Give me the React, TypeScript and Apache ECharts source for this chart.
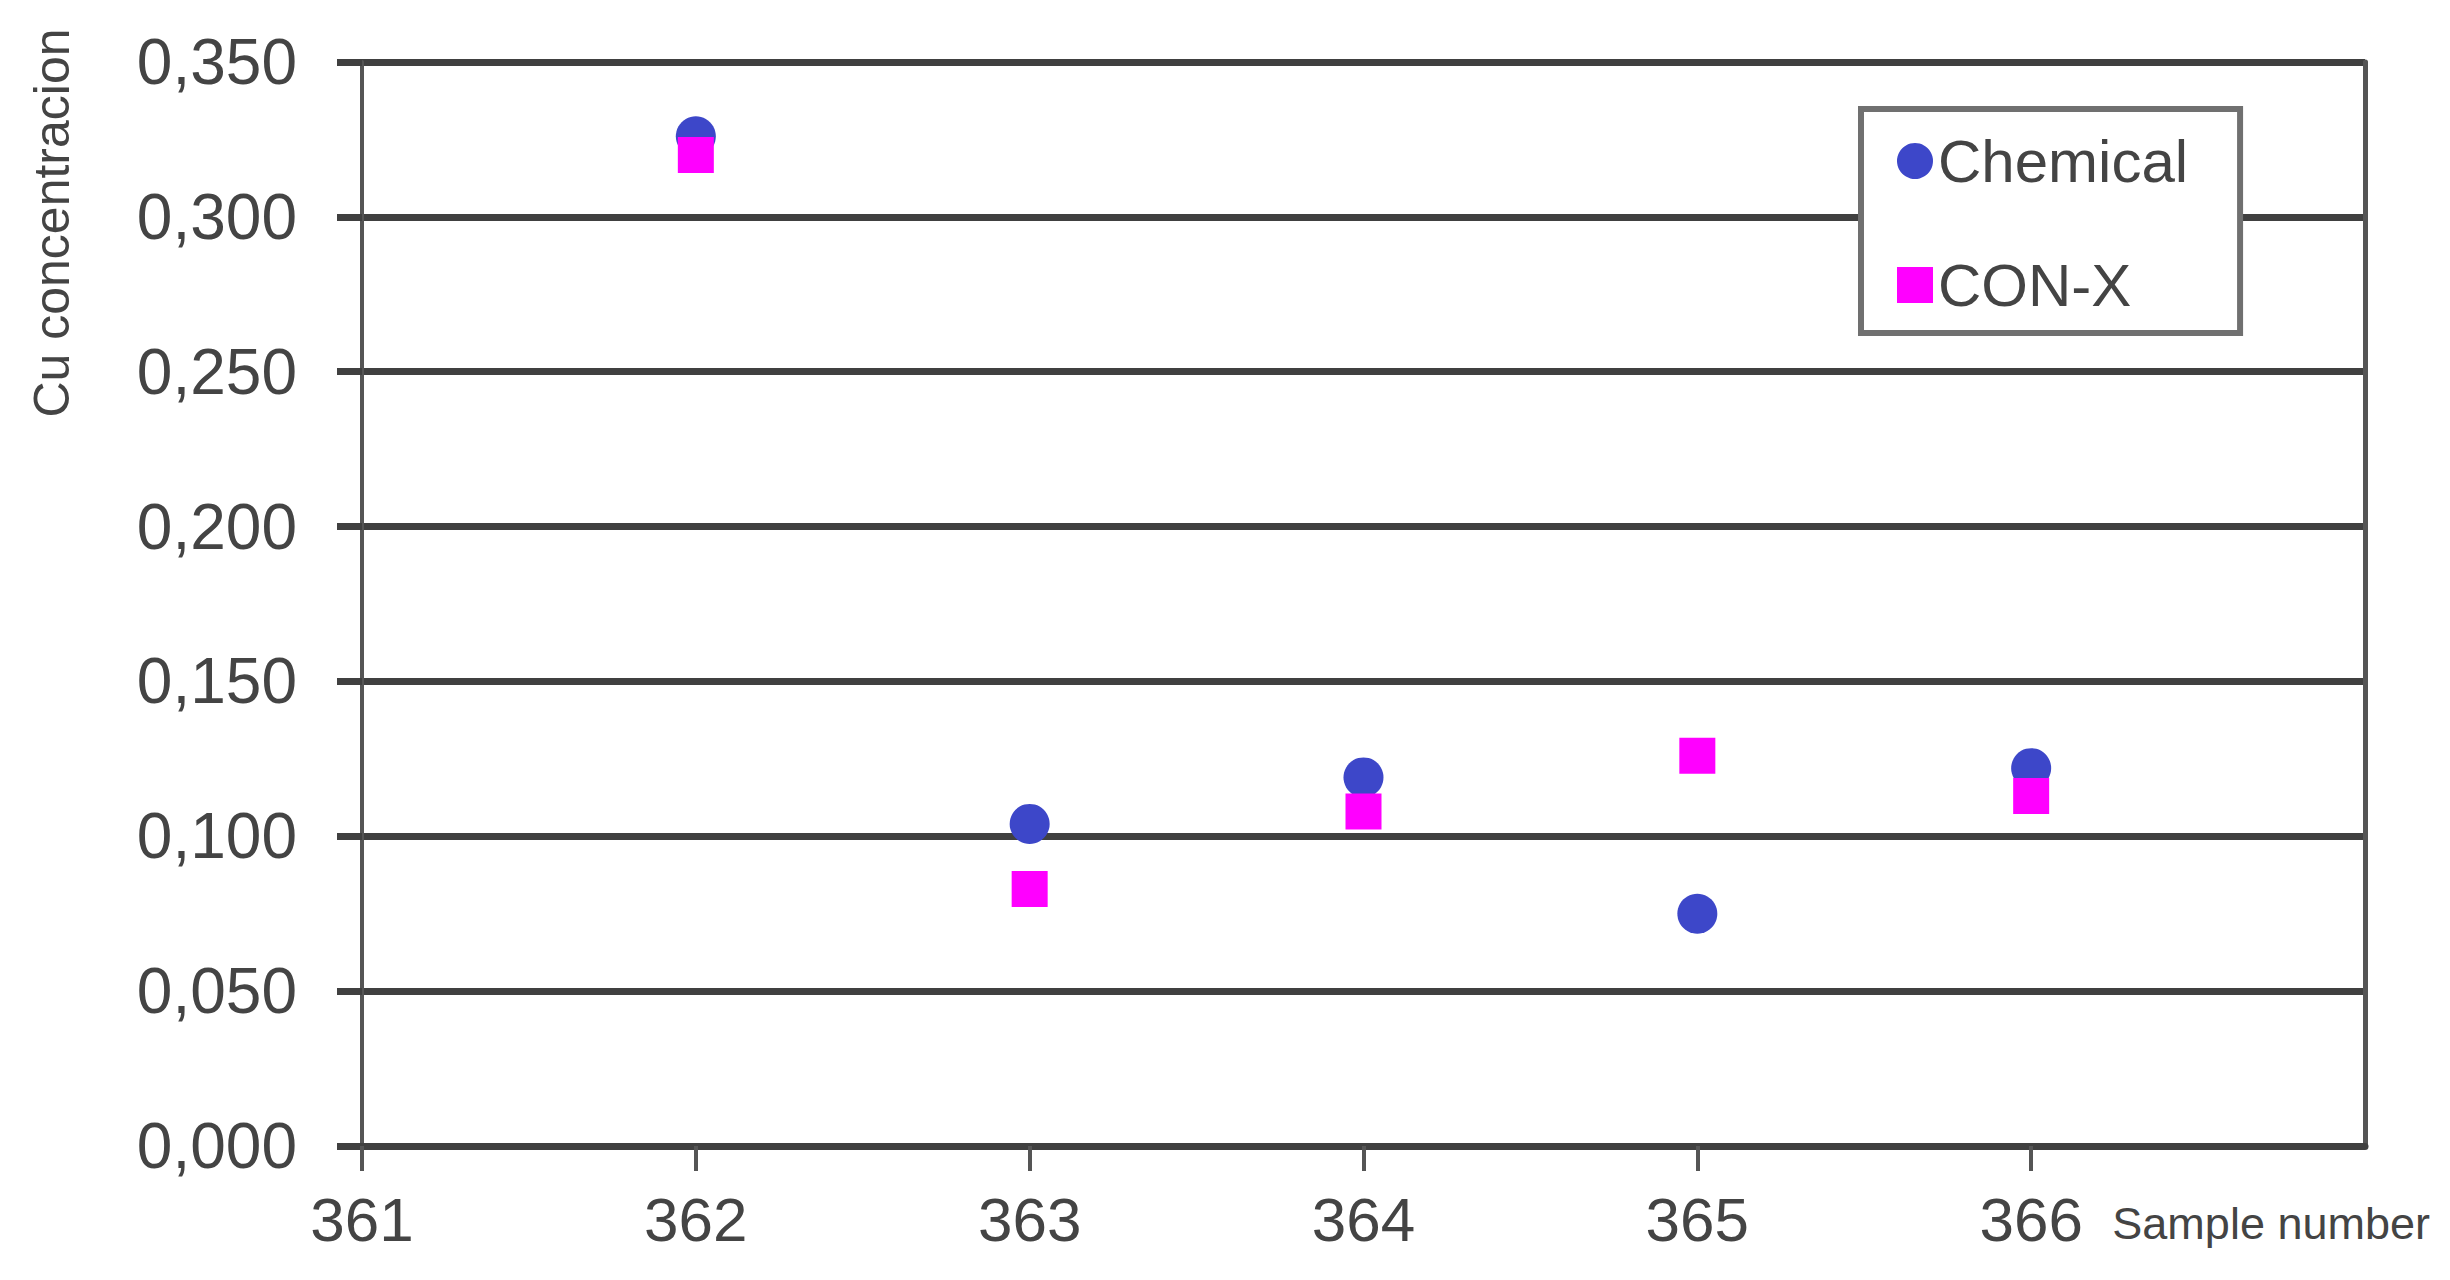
import { useEffect, useRef } from "react";
import * as echarts from "echarts";

// sample numbers on the x axis
const samples = [362, 363, 364, 365, 366];
// Cu concentration
const chemical = [0.326, 0.104, 0.119, 0.075, 0.122];
const conX = [0.32, 0.083, 0.108, 0.126, 0.113];

const FONT = '"Liberation Sans", Arial, sans-serif';
const GRID_LINE = { color: "#404040", width: 7 };

export default function App() {
  const chartRef = useRef<HTMLDivElement>(null);

  useEffect(() => {
    document.body.style.margin = "0";
    const chart = echarts.init(chartRef.current, null, { renderer: "svg" });

    const options = {
      animation: false,
      backgroundColor: "#fff",
      textStyle: { fontFamily: FONT },
      grid: {
        left: 362,
        right: 85,
        top: 62,
        bottom: 134,
        containLabel: false,
        outerBoundsMode: "none",
      },
      legend: {
        orient: "vertical",
        left: 1861,
        top: 109,
        padding: [22, 52, 18, 36],
        itemGap: 64,
        itemWidth: 36,
        itemHeight: 36,
        borderColor: "#707070",
        borderWidth: 6,
        backgroundColor: "#fff",
        textStyle: { fontFamily: FONT, fontSize: 60, color: "#444" },
        data: [
          { name: "Chemical", icon: "circle" },
          { name: "CON-X", icon: "rect" },
        ],
      },
      xAxis: {
        type: "value",
        min: 361,
        max: 367,
        interval: 1,
        name: "Sample number",
        nameLocation: "end",
        nameGap: 65,
        nameTextStyle: {
          fontFamily: FONT,
          fontSize: 45,
          color: "#444",
          align: "right",
          verticalAlign: "top",
          padding: [55, 0, 0, 0],
        },
        axisLine: { show: true, lineStyle: GRID_LINE },
        axisTick: { show: true, length: 25, lineStyle: { color: "#555", width: 4 } },
        axisLabel: {
          showMaxLabel: false,
          margin: 42,
          fontFamily: FONT,
          fontSize: 62,
          color: "#444",
        },
        splitLine: { show: false },
      },
      yAxis: [
        {
          type: "value",
          min: 0,
          max: 0.35,
          interval: 0.05,
          axisLine: { show: true, lineStyle: { color: "#555", width: 4 } },
          axisTick: { show: true, length: 25, lineStyle: GRID_LINE },
          axisLabel: {
            margin: 65,
            fontFamily: FONT,
            fontSize: 64,
            color: "#444",
            formatter: (v: number) => v.toFixed(3).replace(".", ","),
          },
          splitLine: { show: true, lineStyle: GRID_LINE },
        },
        {
          type: "value",
          position: "right",
          min: 0,
          max: 0.35,
          interval: 0.05,
          axisLine: { show: true, lineStyle: { color: "#555", width: 5 } },
          axisTick: { show: false },
          axisLabel: { show: false },
          splitLine: { show: false },
        },
      ],
      graphic: [
        {
          type: "text",
          x: 52,
          y: 223,
          rotation: Math.PI / 2,
          style: {
            text: "Cu concentracion",
            font: `50px ${FONT}`,
            fill: "#444",
            align: "center",
            verticalAlign: "middle",
          },
        },
      ],
      series: [
        {
          name: "Chemical",
          type: "scatter",
          symbol: "circle",
          symbolSize: 40,
          itemStyle: { color: "#3d47c9", opacity: 1 },
          data: samples.map((s, i) => [s, chemical[i]]),
        },
        {
          name: "CON-X",
          type: "scatter",
          symbol: "rect",
          symbolSize: 36,
          itemStyle: { color: "#ff00ff", opacity: 1 },
          data: samples.map((s, i) => [s, conX[i]]),
        },
      ],
    };

    chart.setOption(options);

    return () => {
      chart.dispose();
    };
  }, []);

  return <div ref={chartRef} style={{ width: "2450px", height: "1280px" }} />;
}
